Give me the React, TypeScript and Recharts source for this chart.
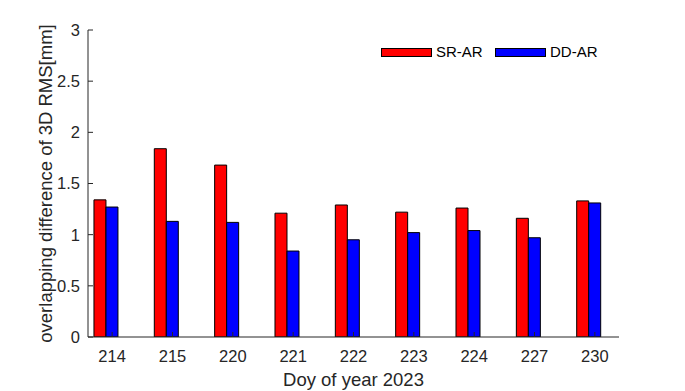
import React from 'react';
import { BarChart, Bar, XAxis, YAxis, Legend, Label } from 'recharts';

const days = ['214', '215', '220', '221', '222', '223', '224', '227', '230'];
const srAR = [1.34, 1.84, 1.68, 1.21, 1.29, 1.22, 1.26, 1.16, 1.33];
const ddAR = [1.27, 1.13, 1.12, 0.84, 0.95, 1.02, 1.04, 0.97, 1.31];
const emptySlot = [0, 0, 0, 0, 0, 0, 0, 0, 0];
const seriesNames = ['SR-AR', 'DD-AR'];
const xTicks = [1, 2, 3, 4, 5, 6, 7, 8, 9];
const yTicks = [0, 0.5, 1, 1.5, 2, 2.5, 3];

const data = days.map((d, i) => ({ x: i + 1, day: d, sr: srAR[i], dd: ddAR[i], pad: emptySlot[i] }));

const FONT = '"Liberation Sans", Arial, sans-serif';
const AX = '#262626';
const TICK_LEN = 5;

const BottomTick = (props: any) => {
  const { x, y, payload } = props;
  return (
    <g>
      <line x1={x} y1={y} x2={x} y2={y - TICK_LEN} stroke={AX} strokeWidth={1} />
      <text x={x} y={y + 24.5} textAnchor="middle" fill={AX} fontSize={16.5} fontFamily={FONT}>
        {days[payload.value - 1]}
      </text>
    </g>
  );
};

const TopTick = (props: any) => {
  const { x, y } = props;
  return <line x1={x} y1={y} x2={x} y2={y + TICK_LEN} stroke={AX} strokeWidth={1} />;
};

const LeftTick = (props: any) => {
  const { x, y, payload } = props;
  return (
    <g>
      <line x1={x} y1={y} x2={x + TICK_LEN} y2={y} stroke={AX} strokeWidth={1} />
      <text x={x - 8} y={y} dy="0.36em" textAnchor="end" fill={AX} fontSize={16.5} fontFamily={FONT}>
        {String(payload.value)}
      </text>
    </g>
  );
};

const RightTick = (props: any) => {
  const { x, y } = props;
  return <line x1={x} y1={y} x2={x - TICK_LEN} y2={y} stroke={AX} strokeWidth={1} />;
};

const LegendContent = (props: any) => {
  const payload = props.payload || [];
  const items = seriesNames
    .map((n) => payload.find((p: any) => p.value === n))
    .filter(Boolean);
  return (
    <div style={{ display: 'flex', alignItems: 'center', fontFamily: FONT, fontSize: 15, lineHeight: '16px', color: '#000' }}>
      {items.map((p: any) => (
        <div key={p.value} style={{ display: 'flex', alignItems: 'center', width: 114 }}>
          <span
            style={{
              display: 'inline-block',
              width: 51,
              height: 9,
              boxSizing: 'border-box',
              border: '1px solid #000',
              background: p.color,
              marginRight: 4,
            }}
          />
          <span>{p.value}</span>
        </div>
      ))}
    </div>
  );
};

export default function App() {
  return (
    <div style={{ position: 'absolute', left: 0, top: 0, width: 685, height: 391, background: '#fff' }}>
      <BarChart
        width={685}
        height={391}
        data={data}
        margin={{ top: 30, right: 66, bottom: 0, left: 0 }}
        barSize={12}
        barGap={0}
        barCategoryGap={0}
      >
        <XAxis
          dataKey="x"
          type="number"
          domain={[0.6, 9.4]}
          allowDataOverflow
          ticks={xTicks}
          interval={0}
          height={54}
          tickSize={0}
          tickMargin={0}
          tickLine={false}
          tick={<BottomTick />}
          axisLine={{ stroke: AX, strokeWidth: 1 }}
        >
          <Label
            value="Doy of year 2023"
            position="insideBottom"
            offset={5}
            style={{ fontSize: 18.5, fontFamily: FONT, fill: AX }}
          />
        </XAxis>
        <XAxis
          xAxisId="top"
          orientation="top"
          dataKey="x"
          type="number"
          domain={[0.6, 9.4]}
          allowDataOverflow
          ticks={xTicks}
          interval={0}
          height={0}
          tickSize={0}
          tickMargin={0}
          tickLine={false}
          tick={<TopTick />}
          axisLine={{ stroke: AX, strokeWidth: 1 }}
        />
        <YAxis
          type="number"
          domain={[0, 3]}
          allowDataOverflow
          ticks={yTicks}
          interval={0}
          width={88}
          tickSize={0}
          tickMargin={0}
          tickLine={false}
          tick={<LeftTick />}
          axisLine={{ stroke: AX, strokeWidth: 1 }}
        >
          <Label
            value="overlapping difference of 3D RMS[mm]"
            position="center"
            angle={-90}
            dx={1.5}
            style={{ fontSize: 18.5, fontFamily: FONT, fill: AX, textAnchor: 'middle' }}
          />
        </YAxis>
        <YAxis
          yAxisId="right"
          orientation="right"
          type="number"
          domain={[0, 3]}
          allowDataOverflow
          ticks={yTicks}
          interval={0}
          width={0}
          tickSize={0}
          tickMargin={0}
          tickLine={false}
          tick={<RightTick />}
          axisLine={{ stroke: AX, strokeWidth: 1 }}
        />
        <Legend
          layout="horizontal"
          verticalAlign="middle"
          align="center"
          wrapperStyle={{ left: 381, top: 44, width: 'auto', height: 'auto' }}
          content={<LegendContent />}
        />
        <Bar dataKey="sr" name="SR-AR" fill="#ff0000" stroke="#000" strokeWidth={1} isAnimationActive={false} />
        <Bar dataKey="dd" name="DD-AR" fill="#0000ff" stroke="#000" strokeWidth={1} isAnimationActive={false} />
        <Bar dataKey="pad" name="pad" legendType="none" fill="none" stroke="none" isAnimationActive={false} />
      </BarChart>
    </div>
  );
}
